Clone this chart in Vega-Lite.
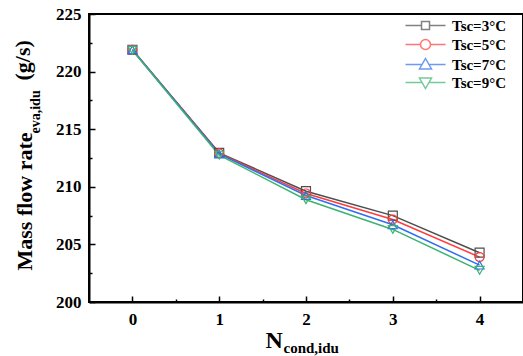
{
  "$schema": "https://vega.github.io/schema/vega-lite/v6.json",
  "width": 434,
  "height": 288,
  "autosize": {"type": "none"},
  "padding": {"left": 89, "top": 14, "right": 0, "bottom": 54},
  "background": "white",
  "config": {
    "view": {"stroke": "black", "strokeWidth": 2},
    "font": "Liberation Serif",
    "axis": {"grid": false}
  },
  "data": {
    "values": [
      {"n": 0, "tsc": "Tsc=3°C", "v": 221.9},
      {"n": 1, "tsc": "Tsc=3°C", "v": 212.95},
      {"n": 2, "tsc": "Tsc=3°C", "v": 209.62},
      {"n": 3, "tsc": "Tsc=3°C", "v": 207.5},
      {"n": 4, "tsc": "Tsc=3°C", "v": 204.28},
      {"n": 0, "tsc": "Tsc=5°C", "v": 221.9},
      {"n": 1, "tsc": "Tsc=5°C", "v": 212.9},
      {"n": 2, "tsc": "Tsc=5°C", "v": 209.42},
      {"n": 3, "tsc": "Tsc=5°C", "v": 207.16},
      {"n": 4, "tsc": "Tsc=5°C", "v": 203.9},
      {"n": 0, "tsc": "Tsc=7°C", "v": 221.9},
      {"n": 1, "tsc": "Tsc=7°C", "v": 212.85},
      {"n": 2, "tsc": "Tsc=7°C", "v": 209.25},
      {"n": 3, "tsc": "Tsc=7°C", "v": 206.7},
      {"n": 4, "tsc": "Tsc=7°C", "v": 203.2},
      {"n": 0, "tsc": "Tsc=9°C", "v": 221.85},
      {"n": 1, "tsc": "Tsc=9°C", "v": 212.75},
      {"n": 2, "tsc": "Tsc=9°C", "v": 208.88},
      {"n": 3, "tsc": "Tsc=9°C", "v": 206.3},
      {"n": 4, "tsc": "Tsc=9°C", "v": 202.75}
    ]
  },
  "resolve": {
    "scale": {"shape": "independent", "stroke": "independent"},
    "axis": {"x": "independent", "y": "independent"}
  },
  "layer": [
    {
      "mark": {"type": "line", "strokeWidth": 1.5},
      "encoding": {
        "x": {
          "field": "n", "type": "quantitative",
          "scale": {"domain": [-0.5, 4.5], "nice": false, "zero": false},
          "axis": {
            "orient": "bottom",
            "values": [0, 1, 2, 3, 4],
            "format": "d",
            "domainColor": "black", "domainWidth": 2,
            "ticks": false,
            "labelFont": "Liberation Serif", "labelFontWeight": "bold", "labelFontSize": 17, "labelColor": "black",
            "labelPadding": 9,
            "title": "N",
            "titleFont": "Liberation Serif", "titleFontWeight": "bold", "titleFontSize": 24, "titleColor": "black",
            "titleAlign": "left", "titleBaseline": "alphabetic", "titleAnchor": "start",
            "titleX": 176, "titleY": 45
          }
        },
        "y": {
          "field": "v", "type": "quantitative",
          "scale": {"domain": [200, 225], "nice": false, "zero": false},
          "axis": {
            "orient": "left",
            "values": [200, 205, 210, 215, 220, 225],
            "format": "d",
            "domainColor": "black", "domainWidth": 2,
            "ticks": false,
            "labelFont": "Liberation Serif", "labelFontWeight": "bold", "labelFontSize": 17, "labelColor": "black",
            "labelPadding": 8,
            "title": "Mass flow rate",
            "titleFont": "Liberation Serif", "titleFontWeight": "bold", "titleFontSize": 22, "titleColor": "black",
            "titleAngle": 270, "titleAlign": "left", "titleBaseline": "middle", "titleAnchor": "start",
            "titleX": -65, "titleY": 256
          }
        },
        "stroke": {
          "field": "tsc", "type": "nominal",
          "scale": {"domain": ["Tsc=3°C", "Tsc=5°C", "Tsc=7°C", "Tsc=9°C"], "range": ["#4d4d4d", "#ff3b3b", "#2e6ff0", "#3cb371"]},
          "legend": null
        }
      }
    },
    {
      "mark": {"type": "point", "filled": false, "strokeWidth": 1.2, "size": 80, "opacity": 1},
      "encoding": {
        "x": {
          "field": "n", "type": "quantitative",
          "scale": {"domain": [-0.5, 4.5], "nice": false, "zero": false},
          "axis": {
            "orient": "bottom", "labels": false, "domain": false, "offset": -6,
            "values": [0, 1, 2, 3, 4],
            "ticks": true, "tickColor": "black", "tickWidth": 1.5, "tickSize": 6,
            "title": "cond,idu",
            "titleFont": "Liberation Serif", "titleFontWeight": "bold", "titleFontSize": 15, "titleColor": "black",
            "titleAlign": "left", "titleBaseline": "alphabetic", "titleAnchor": "start",
            "titleX": 194, "titleY": 56
          }
        },
        "y": {
          "field": "v", "type": "quantitative",
          "scale": {"domain": [200, 225], "nice": false, "zero": false},
          "axis": {
            "orient": "left", "labels": false, "domain": false, "offset": -6,
            "values": [200, 205, 210, 215, 220, 225],
            "ticks": true, "tickColor": "black", "tickWidth": 1.5, "tickSize": 6,
            "title": "eva,idu",
            "titleFont": "Liberation Serif", "titleFontWeight": "bold", "titleFontSize": 14, "titleColor": "black",
            "titleAngle": 270, "titleAlign": "left", "titleBaseline": "middle", "titleAnchor": "start",
            "titleX": -60, "titleY": 119
          }
        },
        "stroke": {
          "field": "tsc", "type": "nominal",
          "scale": {"domain": ["Tsc=3°C", "Tsc=5°C", "Tsc=7°C", "Tsc=9°C"], "range": ["#4d4d4d", "#ff3b3b", "#2e6ff0", "#3cb371"]},
          "legend": null
        },
        "shape": {
          "field": "tsc", "type": "nominal",
          "scale": {"domain": ["Tsc=3°C", "Tsc=5°C", "Tsc=7°C", "Tsc=9°C"], "range": ["square", "circle", "triangle-up", "triangle-down"]},
          "legend": null
        }
      }
    },
    {
      "transform": [{"filter": "datum.n < -100"}],
      "mark": {"type": "point", "filled": false, "strokeWidth": 1.5},
      "encoding": {
        "x": {
          "field": "n", "type": "quantitative",
          "scale": {"domain": [-0.5, 4.5], "nice": false, "zero": false},
          "axis": {
            "orient": "bottom", "labels": false, "domain": false, "offset": -3,
            "values": [0.5, 1.5, 2.5, 3.5],
            "ticks": true, "tickColor": "black", "tickWidth": 1.5, "tickSize": 3,
            "title": null
          }
        },
        "y": {
          "field": "v", "type": "quantitative",
          "scale": {"domain": [200, 225], "nice": false, "zero": false},
          "axis": {
            "orient": "left", "labels": false, "domain": false, "offset": -3,
            "values": [202.5, 207.5, 212.5, 217.5, 222.5],
            "ticks": true, "tickColor": "black", "tickWidth": 1.5, "tickSize": 3,
            "title": "(g/s)",
            "titleFont": "Liberation Serif", "titleFontWeight": "bold", "titleFontSize": 22, "titleColor": "black",
            "titleAngle": 270, "titleAlign": "left", "titleBaseline": "middle", "titleAnchor": "start",
            "titleX": -70, "titleY": 66
          }
        },
        "stroke": {
          "field": "tsc", "type": "nominal",
          "scale": {"domain": ["Tsc=3°C", "Tsc=5°C", "Tsc=7°C", "Tsc=9°C"], "range": ["#4d4d4d", "#ff3b3b", "#2e6ff0", "#3cb371"]},
          "legend": {
            "orient": "none", "legendX": 329, "legendY": 4, "title": null, "padding": 0,
            "labelFont": "Liberation Serif", "labelFontWeight": "bold", "labelFontSize": 15, "labelColor": "black",
            "labelOffset": 19, "rowPadding": 2, "symbolSize": 100, "symbolStrokeWidth": 1.5
          }
        },
        "shape": {
          "field": "tsc", "type": "nominal",
          "scale": {
            "domain": ["Tsc=3°C", "Tsc=5°C", "Tsc=7°C", "Tsc=9°C"],
            "range": [
              "M-4,0H-0.8M0.8,0H4M-0.8,-0.8H0.8V0.8H-0.8Z",
              "M-4,0H-1M1,0H4M1,0A1,1,0,1,1,-1,0A1,1,0,1,1,1,0Z",
              "M-4,0H-0.69M0.69,0H4M0,-1.2L1.2,0.9H-1.2Z",
              "M-4,0H-0.69M0.69,0H4M0,1.2L1.2,-0.9H-1.2Z"
            ]
          },
          "legend": {
            "orient": "none", "legendX": 329, "legendY": 4, "title": null, "padding": 0,
            "labelFont": "Liberation Serif", "labelFontWeight": "bold", "labelFontSize": 15, "labelColor": "black",
            "labelOffset": 19, "rowPadding": 2, "symbolSize": 100, "symbolStrokeWidth": 1.5
          }
        }
      }
    }
  ]
}
